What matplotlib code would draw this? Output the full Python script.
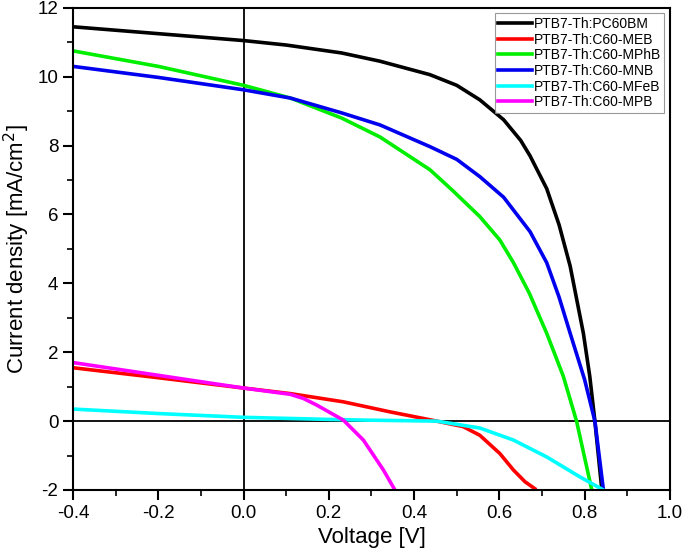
import matplotlib.pyplot as plt
from matplotlib.ticker import MultipleLocator, FormatStrFormatter

plt.rcParams['font.family'] = ['Liberation Sans', 'DejaVu Sans']
plt.rcParams['axes.unicode_minus'] = False

# J-V curves (voltage in V, current density in mA/cm2)
v_pc60bm = [-0.4, -0.2, 0.0, 0.1, 0.23, 0.32, 0.437, 0.5, 0.554, 0.61, 0.65, 0.672,
            0.711, 0.74, 0.766, 0.797, 0.812, 0.824, 0.84]
j_pc60bm = [11.45, 11.25, 11.05, 10.92, 10.69, 10.45, 10.06, 9.75, 9.33, 8.75, 8.15, 7.7,
            6.75, 5.7, 4.5, 2.55, 1.3, 0.0, -1.96]

v_meb = [-0.4, -0.2, 0.0, 0.109, 0.234, 0.343, 0.453, 0.515, 0.554, 0.601, 0.633, 0.66, 0.683]
j_meb = [1.55, 1.26, 0.96, 0.8, 0.56, 0.27, 0.0, -0.16, -0.41, -0.94, -1.42, -1.76, -1.96]

v_mphb = [-0.4, -0.2, 0.0, 0.11, 0.23, 0.32, 0.437, 0.49, 0.554, 0.601, 0.633, 0.67,
          0.711, 0.75, 0.781, 0.816]
j_mphb = [10.75, 10.3, 9.75, 9.38, 8.8, 8.25, 7.3, 6.7, 5.94, 5.26, 4.6, 3.72,
          2.55, 1.3, 0.0, -1.96]

v_mnb = [-0.4, -0.2, 0.0, 0.11, 0.23, 0.32, 0.437, 0.5, 0.554, 0.61, 0.672, 0.711,
         0.74, 0.766, 0.8, 0.824, 0.844]
j_mnb = [10.3, 9.98, 9.62, 9.38, 8.95, 8.6, 7.97, 7.6, 7.1, 6.5, 5.5, 4.6,
         3.6, 2.55, 1.2, 0.0, -2.0]

v_mfeb = [-0.4, -0.2, 0.0, 0.2, 0.281, 0.453, 0.554, 0.633, 0.711, 0.789, 0.844]
j_mfeb = [0.35, 0.22, 0.11, 0.05, 0.03, 0.0, -0.2, -0.55, -1.04, -1.62, -2.0]

v_mpb = [-0.4, -0.2, 0.0, 0.109, 0.14, 0.171, 0.234, 0.281, 0.328, 0.355]
j_mpb = [1.7, 1.33, 0.96, 0.78, 0.66, 0.47, 0.03, -0.55, -1.42, -2.0]

labels = ['PTB7-Th:PC60BM', 'PTB7-Th:C60-MEB', 'PTB7-Th:C60-MPhB',
          'PTB7-Th:C60-MNB', 'PTB7-Th:C60-MFeB', 'PTB7-Th:C60-MPB']
colors = ['#000000', '#ff0000', '#00ee00', '#0000ee', '#00ffff', '#ff00ff']
volts = [v_pc60bm, v_meb, v_mphb, v_mnb, v_mfeb, v_mpb]
currents = [j_pc60bm, j_meb, j_mphb, j_mnb, j_mfeb, j_mpb]

fig = plt.figure(figsize=(6.85, 5.6), dpi=100)
ax = fig.add_axes([0.1066, 0.125, 0.8714, 0.861])

ax.axhline(0, color='black', lw=1.3, zorder=1)
ax.axvline(0, color='black', lw=1.3, zorder=1)

for name, v, j, c in zip(labels, volts, currents, colors):
    ax.plot(v, j, color=c, lw=2.6, label=name, zorder=2, solid_joinstyle='round')

ax.set_xlim(-0.4, 1.0)
ax.set_ylim(-2, 12)
ax.xaxis.set_major_locator(MultipleLocator(0.2))
ax.xaxis.set_minor_locator(MultipleLocator(0.1))
ax.yaxis.set_major_locator(MultipleLocator(2))
ax.yaxis.set_minor_locator(MultipleLocator(1))
ax.xaxis.set_major_formatter(FormatStrFormatter('%.1f'))
ax.tick_params(which='major', direction='out', length=7, width=1.5, labelsize=13.5)
ax.tick_params(which='minor', direction='out', length=4, width=1.2)
for s in ax.spines.values():
    s.set_linewidth(1.5)

ax.set_xlabel('Voltage [V]', fontsize=16)
ax.set_ylabel('Current density [mA/cm$^2$]', fontsize=16)

leg = ax.legend(loc='upper right', fontsize=10, frameon=True, fancybox=False,
                handlelength=2.4, handletextpad=0.15, labelspacing=0.12,
                borderpad=0.25, borderaxespad=0.4)
leg.get_frame().set_edgecolor('#808080')
leg.get_frame().set_linewidth(0.8)

fig.savefig('out.png', dpi=100)
